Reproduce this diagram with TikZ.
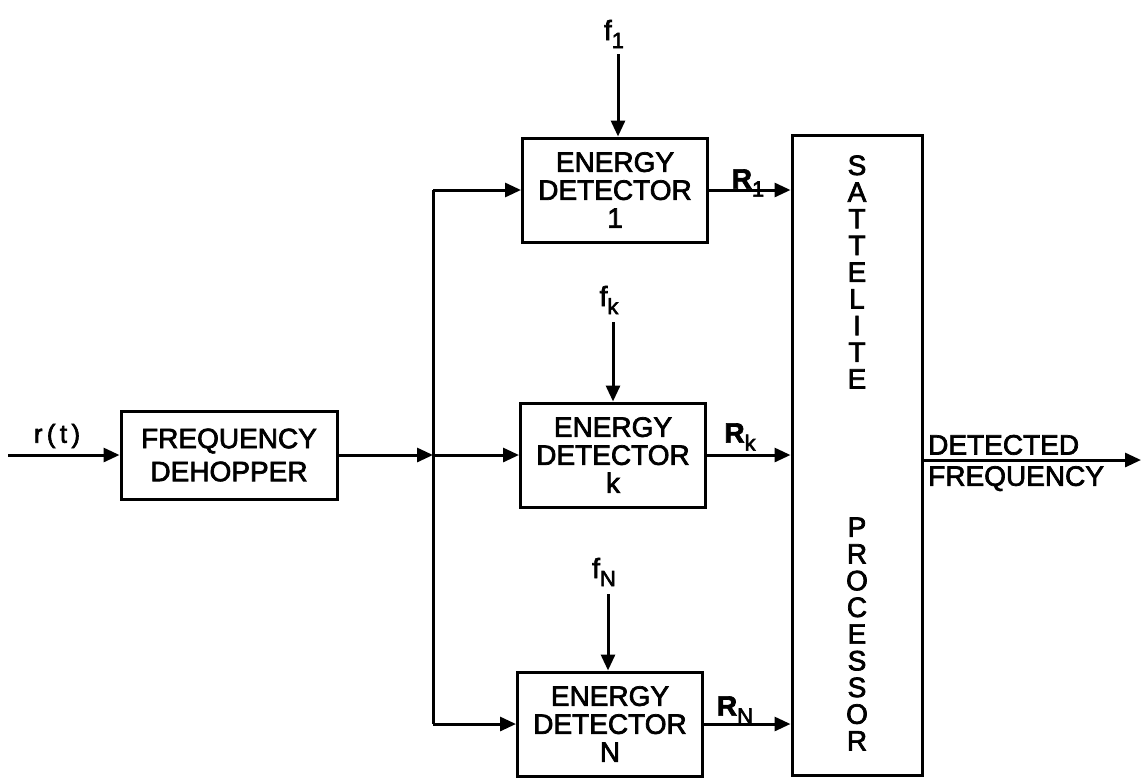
\documentclass[tikz,border=0pt]{standalone}
\usepackage{fontspec}
\setmainfont{Liberation Sans}[FakeBold=2.5]
\usetikzlibrary{arrows.meta}
\newcommand\lsub[1]{\raisebox{-8pt}{\fontsize{22}{22}\selectfont #1}}
\begin{document}
\begin{tikzpicture}[x=1pt,y=-1pt,
  blk/.style={draw,line width=3pt,inner sep=0pt,align=center},
  edbox/.style={blk,minimum width=185pt,minimum height=104pt,font=\fontsize{28}{28}\selectfont},
  lbl/.style={inner sep=0pt,font=\fontsize{28}{30}\selectfont},
  vstack/.style={inner sep=0pt,align=center,font=\fontsize{28}{26.7}\selectfont},
  wire/.style={line width=3pt},
  arr/.style={wire,-{Triangle[length=16pt,width=14pt]}},
]
\useasboundingbox (0,0) rectangle (1142,777);
% blocks
\node[blk,minimum width=216pt,minimum height=88pt,font=\fontsize{28}{33}\selectfont] (deh) at (229,455) {FREQUENCY\\DEHOPPER};
\node[edbox] (ed1) at (615,190) {ENERGY\\DETECTOR\\1};
\node[edbox] (edk) at (613,455) {ENERGY\\DETECTOR\\k};
\node[edbox] (edn) at (610,724) {ENERGY\\DETECTOR\\N};
\node[blk,minimum width=130pt,minimum height=640pt] (sat) at (857,455) {};
\node[vstack] (satt) at (857,272) {S\\A\\T\\T\\E\\L\\I\\T\\E};
\node[vstack] (proc) at (857,634) {P\\R\\O\\C\\E\\S\\S\\O\\R};
% labels
\node[lbl,font=\fontsize{26}{26}\selectfont] (rt) at (57,436) {r\,(\,t\,)};
\node[lbl] (f1) at (614,34) {f\lsub{1}};
\node[lbl] (fk) at (609,300) {f\lsub{k}};
\node[lbl] (fn) at (604,572) {f\lsub{N}};
\node[lbl] (r1) at (748,183) {\textbf{R}\lsub{1}};
\node[lbl] (rk) at (740,437) {\textbf{R}\lsub{k}};
\node[lbl] (rn) at (735,710) {\textbf{R}\lsub{N}};
\node[lbl,anchor=south west] (det) at (928,455) {DETECTED};
\node[lbl,anchor=north west] (freq) at (928,466) {FREQUENCY};
% coordinates
\coordinate (in) at (8,455);
\coordinate (jt) at (433,190);
\coordinate (jm) at (433,455);
\coordinate (jb) at (433,724);
\coordinate (f1s) at (618,54);
\coordinate (fks) at (613,322);
\coordinate (fns) at (608,594);
\coordinate (out) at (1141,460);
% connectors
\draw[arr] (in) -- (deh.west);
\draw[arr] (deh.east) -- (jm);
\draw[arr] (jm) -- (edk.west);
\draw[wire] (jt) -- (jb);
\draw[arr] (jt) -- (ed1.west);
\draw[arr] (jb) -- (edn.west);
\draw[arr] (f1s) -- (f1s |- ed1.north);
\draw[arr] (fks) -- (fks |- edk.north);
\draw[arr] (fns) -- (fns |- edn.north);
\draw[arr] (ed1.east) -- (ed1.east -| sat.west);
\draw[arr] (edk.east) -- (edk.east -| sat.west);
\draw[arr] (edn.east) -- (edn.east -| sat.west);
\draw[arr] (out -| sat.east) -- (out);
\end{tikzpicture}
\end{document}
